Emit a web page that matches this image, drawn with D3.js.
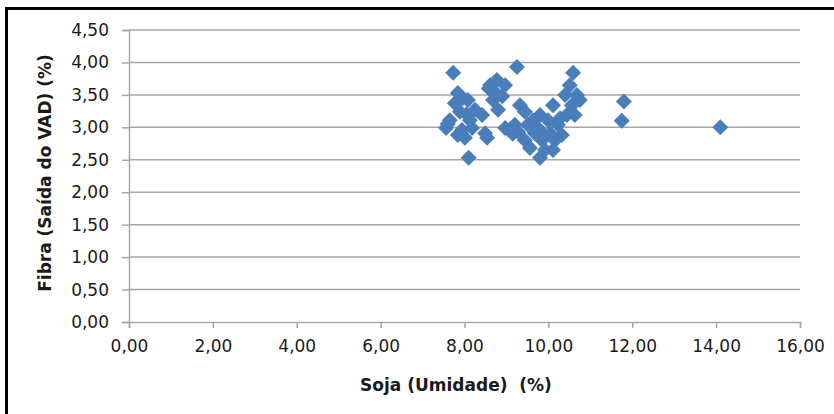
<!DOCTYPE html>
<html>
<head>
<meta charset="utf-8">
<script src="https://cdn.jsdelivr.net/npm/d3@7"></script>
<style>
  html, body { margin: 0; padding: 0; background: #fff; }
  svg { display: block; }
</style>
</head>
<body>
<svg id="chart" width="834" height="414"></svg>
<script>
// Soja umidade (%) vs fibra na saída do VAD (%)
const umidade = [
  7.73, 7.84, 7.56, 7.65, 7.77, 7.89, 7.94, 8.01, 8.08, 8.13,
  7.84, 8.10, 8.25, 7.96, 8.18, 7.60, 8.05,
  8.49, 8.54, 8.42, 8.61, 8.77, 8.97, 8.68, 8.90, 8.80, 8.58, 8.72,
  8.97, 9.08, 9.25, 9.20, 9.32, 9.44, 9.28, 9.44, 9.56, 9.51,
  9.63, 9.68, 9.80, 9.80, 9.85, 9.80, 9.92, 9.99, 10.04, 10.11,
  10.16, 10.11, 10.23, 10.32, 10.40, 10.44, 10.51, 10.59, 10.56, 10.68,
  10.75, 10.63, 10.28, 9.15, 9.70,
  11.80, 11.75, 14.10
];
const fibra = [
  3.84, 3.53, 2.99, 3.11, 3.37, 3.24, 2.96, 2.84, 3.42, 3.11,
  2.88, 2.53, 3.27, 3.45, 2.99, 3.05, 3.20,
  2.91, 2.84, 3.19, 3.65, 3.73, 3.65, 3.42, 3.48, 3.27, 3.60, 3.55,
  2.99, 2.96, 3.93, 3.04, 3.34, 3.24, 2.93, 2.80, 2.68, 3.04,
  3.11, 2.91, 3.19, 2.96, 2.80, 2.53, 2.65, 3.11, 2.91, 2.65,
  2.80, 3.34, 3.04, 2.88, 3.50, 3.19, 3.65, 3.84, 3.34, 3.50,
  3.42, 3.19, 3.14, 2.90, 3.00,
  3.40, 3.10, 3.00
];
const xTicks = [0, 2, 4, 6, 8, 10, 12, 14, 16];
const yTicks = [0, 0.5, 1, 1.5, 2, 2.5, 3, 3.5, 4, 4.5];
const xTitle = "Soja (Umidade)  (%)";
const yTitle = "Fibra (Saída do VAD) (%)";

const svg = d3.select("#chart");
const fmt = v => v.toFixed(2).replace(".", ",");

const x = d3.scaleLinear().domain([0, 16]).range([129, 800]);
const y = d3.scaleLinear().domain([0, 4.5]).range([322, 30]);

// outer frame
svg.append("rect")
  .attr("x", 6.5).attr("y", 8.5)
  .attr("width", 840).attr("height", 420)
  .attr("fill", "none").attr("stroke", "#000").attr("stroke-width", 3);

const gridColor = "#a6a6a6";

// horizontal gridlines
svg.append("g")
  .selectAll("line")
  .data(yTicks.filter(t => t > 0))
  .join("line")
  .attr("x1", x(0)).attr("x2", x(16))
  .attr("y1", d => y(d)).attr("y2", d => y(d))
  .attr("stroke", gridColor).attr("stroke-width", 1.5);

// y axis
const yAxis = svg.append("g")
  .attr("transform", `translate(${x(0)},0)`)
  .call(d3.axisLeft(y).tickValues(yTicks).tickFormat(fmt).tickSize(7).tickPadding(13));
yAxis.select(".domain").attr("stroke", gridColor).attr("stroke-width", 1.5);
yAxis.selectAll(".tick line").attr("stroke", gridColor).attr("stroke-width", 1.5);
yAxis.selectAll(".tick text")
  .attr("font-family", "DejaVu Sans").attr("font-size", 17).attr("fill", "#1a1a1a");

// x axis
const xAxis = svg.append("g")
  .attr("transform", `translate(0,${y(0)})`)
  .call(d3.axisBottom(x).tickValues(xTicks).tickFormat(fmt).tickSize(6).tickPadding(12));
xAxis.select(".domain").attr("stroke", gridColor).attr("stroke-width", 1.5);
xAxis.selectAll(".tick line").attr("stroke", gridColor).attr("stroke-width", 1.5);
xAxis.selectAll(".tick text")
  .attr("font-family", "DejaVu Sans").attr("font-size", 17).attr("fill", "#1a1a1a");

// axis titles
svg.append("text")
  .attr("x", 456).attr("y", 391)
  .attr("text-anchor", "middle")
  .attr("font-family", "DejaVu Sans").attr("font-weight", "bold").attr("font-size", 17)
  .attr("fill", "#1a1a1a")
  .style("white-space", "pre")
  .text(xTitle);

svg.append("text")
  .attr("transform", "translate(51,173) rotate(-90)")
  .attr("text-anchor", "middle")
  .attr("font-family", "DejaVu Sans").attr("font-weight", "bold").attr("font-size", 17)
  .attr("fill", "#1a1a1a")
  .text(yTitle);

// diamond markers
const diamond = d3.symbol().type(d3.symbolSquare).size(128);
svg.append("g")
  .selectAll("path")
  .data(d3.range(umidade.length))
  .join("path")
  .attr("d", diamond)
  .attr("transform", i => `translate(${x(umidade[i])},${y(fibra[i])}) rotate(45)`)
  .attr("fill", "#4a7ebb");
</script>
</body>
</html>
